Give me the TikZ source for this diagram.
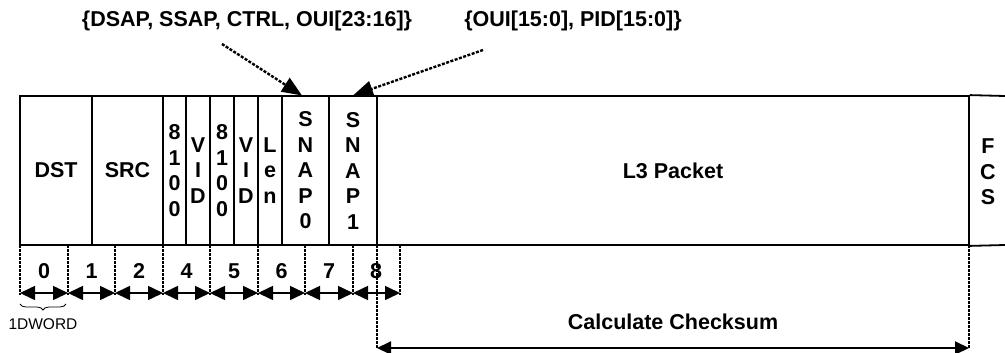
\documentclass[tikz,border=0pt]{standalone}
\usepackage{fontspec}
\setmainfont{Liberation Sans}
\usetikzlibrary{arrows.meta,decorations.pathreplacing}
\begin{document}
\begin{tikzpicture}[x=1pt,y=-1pt,
  cell/.style={draw, line width=1.8pt, minimum height=149pt, inner sep=0pt, align=center,
    font=\fontsize{21.5}{25.5}\selectfont\bfseries},
  lbl/.style={inner sep=0pt, align=center, font=\fontsize{21.5}{25.5}\selectfont\bfseries},
  small/.style={inner sep=0pt, font=\fontsize{15.5}{18}\selectfont},
  frame/.style={line width=1.8pt},
  tick/.style={line width=1.6pt, dash pattern=on 2.5pt off 1.5pt},
  dword/.style={line width=1.6pt, {Triangle[length=15pt,width=14pt]}-{Triangle[length=15pt,width=14pt]}},
  span/.style={line width=2pt, {Triangle[length=14pt,width=13pt]}-{Triangle[length=14pt,width=13pt]}},
  pointer/.style={line width=2.4pt, dash pattern=on 3pt off 1.5pt, -{Triangle[length=20pt,width=16pt]}},
  brc/.style={decorate, decoration={brace, mirror, amplitude=6pt}, line width=0.8pt}
]
\useasboundingbox (0,0) rectangle (1005,353);

% header cells
\node[cell, minimum width=72pt]  (dst)   at (56,170.5)   {DST};
\node[cell, minimum width=71pt]  (src)   at (127.5,170.5){SRC};
\node[cell, minimum width=23pt]  (tpa)   at (174.5,170.5){8\\1\\0\\0};
\node[cell, minimum width=24pt]  (vida)  at (198,170.5)  {V\\I\\D};
\node[cell, minimum width=24pt]  (tpb)   at (222,170.5)  {8\\1\\0\\0};
\node[cell, minimum width=24pt]  (vidb)  at (246,170.5)  {V\\I\\D};
\node[cell, minimum width=24pt]  (len)   at (270,170.5)  {L\\e\\n};
\node[cell, minimum width=47pt]  (snapa) at (305.5,170.5){S\\N\\A\\P\\0};
\node[cell, minimum width=48pt]  (snapb) at (353,170.5)  {S\\N\\A\\P\\1};
\node[cell, minimum width=592pt] (l3)    at (673,170.5)  {L3 Packet};
\coordinate (fcsT) at (1005,96);
\coordinate (fcsB) at (1005,245);
\draw[frame] (l3.north east) -- (fcsT);
\draw[frame] (l3.south east) -- (fcsB);
\node[lbl] (fcs) at (988,172) {F\\C\\S};

% top annotations
\node[lbl] (ann1) at (247,21) {\{DSAP, SSAP, CTRL, OUI[23:16]\}};
\node[lbl] (ann2) at (573,21) {\{OUI[15:0], PID[15:0]\}};
\coordinate (p1) at (222,44);
\coordinate (q1) at (302,95.5);
\coordinate (p2) at (483,50);
\coordinate (q2) at (353,95.5);
\draw[pointer] (p1) -- (q1);
\draw[pointer] (p2) -- (q2);

% DWORD ticks and arrows
\foreach \x [count=\i from 0] in {20,68,115,163,210,258,305,353,400} {
  \coordinate (t\i) at (\x,245);
  \coordinate (b\i) at (\x,295);
  \coordinate (a\i) at (\x,293);
  \draw[tick] (t\i) -- (b\i);
}
\foreach \i [evaluate=\i as \j using int(\i+1)] in {0,...,7} {
  \draw[dword] (a\i) -- (a\j);
}
\foreach \x/\t [count=\i from 0] in {44/0,91.5/1,139/2,186.5/4,234/5,281.5/6,329/7,376/8} {
  \node[lbl] (n\i) at (\x,271) {\t};
}

% brace
\coordinate (br1) at (20,304);
\coordinate (br2) at (66,304);
\draw[brc] (br1) -- (br2);
\node[small] (dw) at (43,324) {1DWORD};

% checksum span
\coordinate (c1t) at (377,245);
\coordinate (c1b) at (377,348);
\coordinate (c2t) at (969,245);
\coordinate (c2b) at (969,348);
\draw[tick] (c1t) -- (c1b);
\draw[tick] (c2t) -- (c2b);
\draw[span] (c1b) -- (c2b);
\node[lbl] (cs) at (673,322) {Calculate Checksum};
\end{tikzpicture}
\end{document}
